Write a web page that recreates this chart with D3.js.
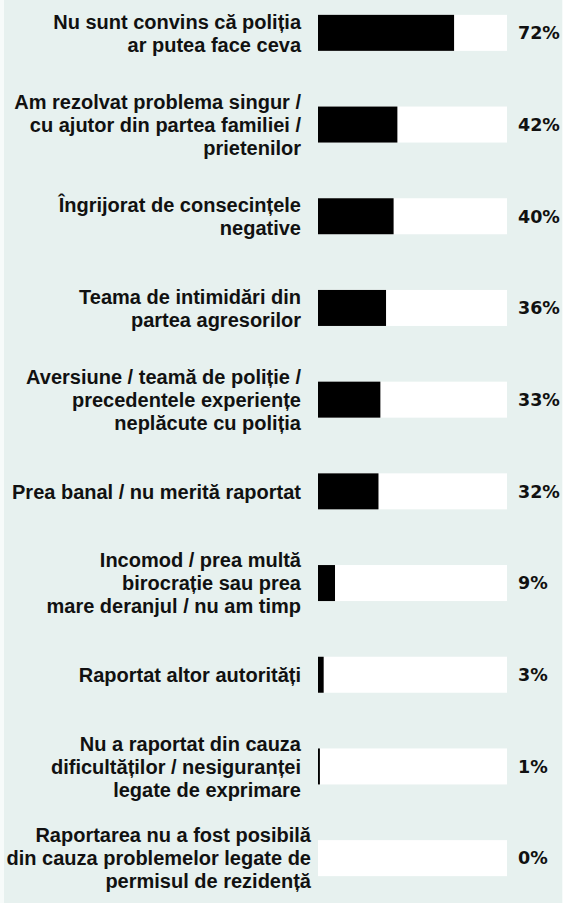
<!DOCTYPE html>
<html>
<head>
<meta charset="utf-8">
<script src="https://cdn.jsdelivr.net/npm/d3@7"></script>
<style>
  body { margin: 0; background: #f7fbfa; }
  svg { display: block; }
</style>
</head>
<body>
<script>
// reasons for not reporting to police, share of respondents (%)
var reasons = [
  ["Nu sunt convins că poliția", "ar putea face ceva"],
  ["Am rezolvat problema singur /", "cu ajutor din partea familiei /", "prietenilor"],
  ["Îngrijorat de consecințele", "negative"],
  ["Teama de intimidări din", "partea agresorilor"],
  ["Aversiune / teamă de poliție /", "precedentele experiențe", "neplăcute cu poliția"],
  ["Prea banal / nu merită raportat"],
  ["Incomod / prea multă", "birocrație sau prea", "mare deranjul / nu am timp"],
  ["Raportat altor autorități"],
  ["Nu a raportat din cauza", "dificultăților / nesiguranței", "legate de exprimare"],
  ["Raportarea nu a fost posibilă", "din cauza problemelor legate de", "permisul de rezidență"]
];
var values = [72, 42, 40, 36, 33, 32, 9, 3, 1, 0];
var valueLabels = ["72%", "42%", "40%", "36%", "33%", "32%", "9%", "3%", "1%", "0%"];

var width = 563, height = 903;
var barH = 36;
var labelFont = "'Liberation Sans', Arial, sans-serif";
var pctFont = "'DejaVu Sans', sans-serif";

var svg = d3.select("body").append("svg")
  .attr("width", width)
  .attr("height", height);

svg.append("rect")
  .attr("x", 4).attr("y", 0)
  .attr("width", width - 5).attr("height", height)
  .attr("fill", "#e7f1ef");

var x = d3.scaleLinear().domain([0, 100]).range([318, 507]);

var y = d3.scaleBand()
  .domain(d3.range(values.length))
  .range([15 - 28, 15 + 91.7 * 10 - 28]) // step ~91.7, bar tops start at 15
  .paddingInner(0);

// bar top given band: center bar in band
function barTop(i) { return y(i) + (y.step() - barH) / 2; }

var rows = svg.selectAll("g.row")
  .data(values)
  .enter()
  .append("g")
  .attr("class", "row");

// white track
rows.append("rect")
  .attr("x", x(0))
  .attr("y", function (d, i) { return barTop(i); })
  .attr("width", x(100) - x(0))
  .attr("height", barH)
  .attr("fill", "#ffffff");

// black value bar
rows.append("rect")
  .attr("x", x(0))
  .attr("y", function (d, i) { return barTop(i); })
  .attr("width", function (d) { return x(d) - x(0); })
  .attr("height", barH)
  .attr("fill", "#000000");

// percent labels
rows.append("text")
  .attr("x", 518)
  .attr("y", function (d, i) { return barTop(i) + barH / 2; })
  .attr("dy", "0.36em")
  .style("font-family", pctFont)
  .style("font-weight", "bold")
  .style("font-size", "17.5px")
  .attr("fill", "#111")
  .text(function (d, i) { return valueLabels[i]; });

// category labels, right aligned, centred on the bar
var lineH = 23;
rows.append("text")
  .attr("text-anchor", "end")
  .style("font-family", labelFont)
  .style("font-weight", "bold")
  .style("font-size", "20px")
  .attr("fill", "#111")
  .each(function (d, i) {
    var lines = reasons[i];
    var cy = barTop(i) + barH / 2;
    var first = cy - (lines.length - 1) * lineH / 2;
    var t = d3.select(this);
    lines.forEach(function (ln, k) {
      t.append("tspan")
        .attr("x", i == values.length - 1 ? 311 : 301)
        .attr("y", first + k * lineH)
        .attr("dy", "0.36em")
        .text(ln);
    });
  });
</script>
</body>
</html>
